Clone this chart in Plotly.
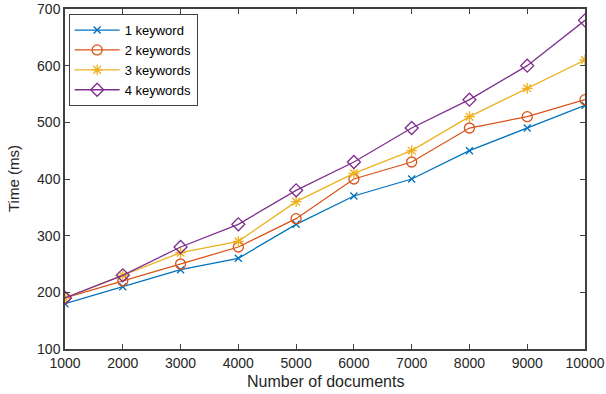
import plotly.graph_objects as go

docs = [1000, 2000, 3000, 4000, 5000, 6000, 7000, 8000, 9000, 10000]
kw1 = [180, 210, 240, 260, 320, 370, 400, 450, 490, 530]
kw2 = [190, 220, 250, 280, 330, 400, 430, 490, 510, 540]
kw3 = [190, 230, 270, 290, 360, 410, 450, 510, 560, 610]
kw4 = [190, 230, 280, 320, 380, 430, 490, 540, 600, 680]
names = ["1 keyword", "2 keywords", "3 keywords", "4 keywords"]
colors = ["#0072BD", "#D95319", "#EDB120", "#7E2F8E"]
symbols = ["x-thin-open", "circle-open", "asterisk-open", "diamond-open"]
sizes = [7, 10, 9, 10]

FONT = "Liberation Sans, Arial"

fig = go.Figure()
for ys, n, c, s, sz in zip([kw1, kw2, kw3, kw4], names, colors, symbols, sizes):
    fig.add_trace(go.Scatter(
        x=docs, y=ys, name=n, mode="lines+markers",
        line=dict(color=c, width=1.3),
        marker=dict(symbol=s, size=sz, color=c, line=dict(color=c, width=1.3)),
    ))

axis_common = dict(
    showgrid=False, zeroline=False, showline=True, linecolor="#404040", linewidth=1.5,
    mirror="ticks", ticks="inside", ticklen=5, tickcolor="#404040", tickwidth=1,
    tickfont=dict(family=FONT, size=14, color="#262626"), automargin=False,
)
fig.update_xaxes(range=[1000, 10000], tickvals=docs, ticktext=[str(d) for d in docs], **axis_common)
fig.update_yaxes(range=[100, 700], dtick=100, **axis_common)

fig.add_annotation(text="Number of documents", xref="paper", yref="paper", x=0.5, y=0,
                   yshift=-32, xanchor="center", yanchor="middle", showarrow=False,
                   font=dict(family=FONT, size=16, color="#262626"))
fig.add_annotation(text="Time (ms)", xref="paper", yref="paper", x=0, y=0.5,
                   xshift=-52, xanchor="center", yanchor="middle", textangle=-90, showarrow=False,
                   font=dict(family=FONT, size=15, color="#262626"))

fig.update_layout(
    width=606, height=394,
    margin=dict(l=65, r=21, t=9, b=45),
    paper_bgcolor="white", plot_bgcolor="white",
    showlegend=True,
    legend=dict(x=0.007, y=0.985, xanchor="left", yanchor="top",
                bordercolor="#404040", borderwidth=1, bgcolor="white",
                font=dict(family=FONT, size=13, color="#000000"),
                tracegroupgap=0, itemwidth=45),
)

fig.write_html("out.html", config={"displayModeBar": False},
               post_script="document.body.style.margin='0';document.body.style.overflow='hidden';")
